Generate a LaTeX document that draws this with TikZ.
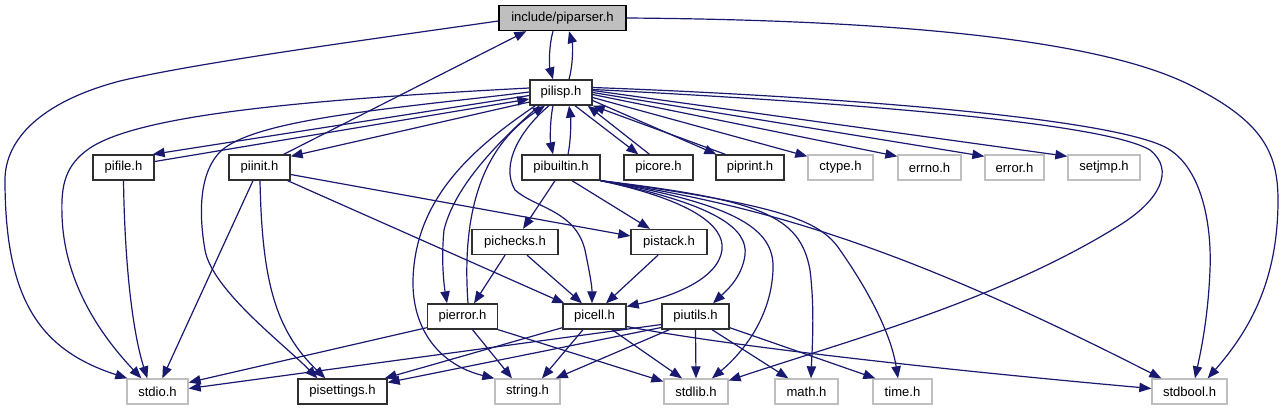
\documentclass[tikz,border=0pt]{standalone}
\usepackage{fontspec}
\setmainfont{Liberation Sans}
\usetikzlibrary{arrows.meta,calc}
\definecolor{eb}{HTML}{191970}
\definecolor{gb}{HTML}{BFBFBF}
\definecolor{nb}{HTML}{303030}
\begin{document}
\begin{tikzpicture}[x=0.75pt,y=-0.75pt,
 hdr/.style={draw=nb, fill=white, line width=1pt, minimum height=18.75pt, inner sep=0pt, font=\fontsize{9.8}{11}\selectfont},
 sys/.style={hdr, draw=gb},
 wd/.style={minimum width=#1*0.75pt},
 e/.style={draw=eb, line width=0.9pt, -{Triangle[length=9pt,width=7pt]}}]
\useasboundingbox (0,0) rectangle (1284,411);
\fill[white] (0,0) rectangle (1284,411);
% nodes
\node[hdr, wd=127, fill=gb, draw=black] (piparser) at (562.5,18) {include/piparser.h};
\node[hdr, wd=62] (pilisp) at (561,92.5) {pilisp.h};
\node[hdr, wd=61] (pifile) at (123.5,167.5) {pifile.h};
\node[hdr, wd=61] (piinit) at (259.5,167.5) {piinit.h};
\node[hdr, wd=78] (pibuiltin) at (561,167.5) {pibuiltin.h};
\node[hdr, wd=69] (picore) at (658.5,167.5) {picore.h};
\node[hdr, wd=68] (piprint) at (750,167.5) {piprint.h};
\node[sys, wd=65] (ctype) at (840.5,167.5) {ctype.h};
\node[sys, wd=63] (errno) at (929.5,167.5) {errno.h};
\node[sys, wd=59] (error) at (1014.5,167.5) {error.h};
\node[sys, wd=72] (setjmp) at (1104,167.5) {setjmp.h};
\node[hdr, wd=86] (pichecks) at (515,242) {pichecks.h};
\node[hdr, wd=76] (pistack) at (669,242) {pistack.h};
\node[hdr, wd=70] (pierror) at (462.5,316.5) {pierror.h};
\node[hdr, wd=63] (picell) at (594.5,316.5) {picell.h};
\node[hdr, wd=67] (piutils) at (695.5,316.5) {piutils.h};
\node[sys, wd=61] (stdio) at (157.5,391.5) {stdio.h};
\node[hdr, wd=89] (pisettings) at (342.5,391.5) {pisettings.h};
\node[sys, wd=65] (string) at (527.5,391.5) {string.h};
\node[sys, wd=64] (stdlib) at (696,391.5) {stdlib.h};
\node[sys, wd=63] (math) at (806.5,391.5) {math.h};
\node[sys, wd=59] (time) at (902.5,391.5) {time.h};
\node[sys, wd=75] (stdbool) at (1189.5,391.5) {stdbool.h};
% piparser edges
\draw[e] ($(piparser.south)+(-9.5,0)$) .. controls (549,45) and (549,65) .. ($(pilisp.north)+(-8,0)$);
\draw[e] ($(pilisp.north)+(8,0)$) .. controls (573,65) and (573,45) .. ($(piparser.south)+(6.5,0)$);
\draw[e] ($(piparser.west)+(0,3)$) .. controls (380,38) and (200,62) .. (120,81) .. controls (40,102) and (5,140) .. (5,180) .. controls (5,300) and (40,350) .. ($(stdio.north west)+(1,0)$);
\draw[e] (piparser.east) .. controls (900,20) and (1100,40) .. (1190,85) .. controls (1260,120) and (1278,150) .. (1278,200) .. controls (1278,280) and (1250,330) .. ($(stdbool.north east)+(-20,0)$);
\draw[e] ($(piinit.north east)+(-7,0)$) -- ($(piparser.south west)+(28,0)$);
% pilisp west side
\draw[e] ($(pilisp.west)+(0,-4.5)$) .. controls (300,100) and (140,115) .. (90,148) .. controls (65,165) and (61,185) .. (62,215) .. controls (64,290) and (110,345) .. ($(stdio.north west)+(15,0)$);
\draw[e] ($(pilisp.west)+(0,-0.5)$) .. controls (400,108) and (260,118) .. (222,150) .. controls (200,170) and (198,210) .. (205,250) .. controls (212,290) and (285,345) .. ($(pisettings.north west)+(20,0)$);
\draw[e] ($(pilisp.west)+(0,3)$) -- ($(pifile.north east)+(-2,0)$);
\draw[e] ($(pifile.east)+(0,-6)$) -- ($(pilisp.west)+(0,6.5)$);
\draw[e] ($(pilisp.west)+(0,9.5)$) -- ($(piinit.north east)+(0,2)$);
% pifile / piinit
\draw[e] (pifile.south) .. controls (125,280) and (135,340) .. ($(stdio.north west)+(21,0)$);
\draw[e] ($(piinit.south)+(-6.5,0)$) -- ($(stdio.north west)+(36,0)$);
\draw[e] ($(piinit.south)+(0.5,0)$) .. controls (262,280) and (275,330) .. ($(pisettings.north west)+(28,0)$);
\draw[e] ($(piinit.south east)+(-3,0)$) -- ($(picell.north west)+(2,0)$);
\draw[e] ($(piinit.east)+(0,7)$) -- ($(pistack.west)+(0,-6)$);
% pilisp south side
\draw[e] ($(pilisp.south west)+(6,0)$) .. controls (470,150) and (415,200) .. (413,280) .. controls (412,330) and (440,365) .. (string.north west);
\draw[e] ($(pilisp.south west)+(10,0)$) .. controls (500,140) and (455,185) .. (444,230) .. controls (441,260) and (444,285) .. ($(pierror.north)+(-15.5,0)$);
\draw[e] ($(pierror.north)+(5.5,0)$) .. controls (462,220) and (478,150) .. ($(pilisp.south)+(-16,0)$);
\draw[e] ($(pilisp.south)+(-12,0)$) .. controls (520,130) and (500,165) .. (515,190) .. controls (535,208) and (575,210) .. (585,250) .. controls (589,270) and (592,285) .. ($(picell.north)+(-2.5,0)$);
\draw[e] ($(pilisp.south)+(-8,0)$) .. controls (550,120) and (550,140) .. ($(pibuiltin.north)+(-8,0)$);
\draw[e] ($(pibuiltin.north)+(7,0)$) .. controls (571,140) and (571,120) .. ($(pilisp.south)+(8,0)$);
\draw[e] ($(pilisp.south)+(14,0)$) -- ($(picore.north west)+(15,0)$);
\draw[e] ($(picore.north)+(-9,0)$) -- ($(pilisp.south east)+(-5,0)$);
\draw[e] ($(pilisp.east)+(0,8)$) -- ($(piprint.north west)+(1,0)$);
\draw[e] ($(piprint.north west)+(10,0)$) -- (pilisp.south east);
% pilisp east side
\draw[e] ($(pilisp.east)+(0,5)$) -- ($(ctype.north west)+(0,2)$);
\draw[e] ($(pilisp.east)+(0,2)$) -- ($(errno.north west)+(0,2)$);
\draw[e] (pilisp.east) -- ($(error.north west)+(0,2)$);
\draw[e] ($(pilisp.east)+(0,-2)$) -- ($(setjmp.north west)+(0,2)$);
\draw[e] ($(pilisp.east)+(0,-3)$) .. controls (800,100) and (1100,120) .. (1150,150) .. controls (1175,170) and (1160,200) .. (1120,225) .. controls (1000,300) and (850,340) .. ($(stdlib.east)+(0,-11)$);
\draw[e] ($(pilisp.east)+(0,-5)$) .. controls (800,95) and (1100,115) .. (1165,147) .. controls (1200,165) and (1212,220) .. (1210,270) .. controls (1208,320) and (1200,355) .. ($(stdbool.north)+(5.5,0)$);
% pibuiltin
\draw[e] ($(pibuiltin.south)+(-6,0)$) -- ($(pichecks.north)+(8,0)$);
\draw[e] ($(pibuiltin.south)+(11,0)$) -- ($(pistack.north)+(-19,0)$);
\draw[e] (pibuiltin.south east) .. controls (690,200) and (725,225) .. (722,250) .. controls (718,280) and (670,297) .. ($(picell.east)+(0,-10)$);
\draw[e] (pibuiltin.south east) .. controls (720,205) and (748,230) .. (745,255) .. controls (742,278) and (725,292) .. ($(piutils.north)+(17.5,0)$);
\draw[e] (pibuiltin.south east) .. controls (740,205) and (775,230) .. (773,270) .. controls (771,320) and (740,355) .. ($(stdlib.north)+(16,0)$);
\draw[e] (pibuiltin.south east) .. controls (760,200) and (800,215) .. (810,270) .. controls (815,310) and (812,350) .. ($(math.north)+(4.5,0)$);
\draw[e] (pibuiltin.south east) .. controls (780,205) and (820,220) .. (840,250) .. controls (875,300) and (892,340) .. ($(time.north)+(-4.5,0)$);
\draw[e] (pibuiltin.south east) .. controls (760,205) and (900,245) .. ($(stdbool.north west)+(10,0)$);
% pichecks / pistack
\draw[e] ($(pichecks.south)+(-10,0)$) -- ($(pierror.north)+(11.5,0)$);
\draw[e] ($(pichecks.south)+(12,0)$) -- ($(picell.north)+(-12.5,0)$);
\draw[e] ($(pistack.south)+(-11,0)$) -- ($(picell.north)+(11.5,0)$);
% pierror
\draw[e] ($(pierror.south west)+(0,-2)$) -- ($(stdio.east)+(0,-9)$);
\draw[e] ($(pierror.south)+(10,0)$) -- ($(string.north)+(-15.5,0)$);
\draw[e] (pierror.south east) -- ($(stdlib.west)+(0,-10)$);
% picell
\draw[e] ($(picell.south west)+(0,-2)$) -- ($(pisettings.north east)+(-3,0)$);
\draw[e] ($(picell.south)+(-11.5,0)$) -- ($(string.north)+(14.5,0)$);
\draw[e] ($(picell.south)+(17.5,0)$) -- ($(stdlib.north)+(-14,0)$);
\draw[e] ($(picell.east)+(0,10)$) .. controls (750,350) and (1000,375) .. ($(stdbool.west)+(0,-3)$);
% piutils
\draw[e] ($(piutils.west)+(0,8)$) -- ($(stdio.east)+(0,-3)$);
\draw[e] ($(piutils.west)+(0,11)$) -- ($(pisettings.east)+(0,-9)$);
\draw[e] ($(piutils.south west)+(8,0)$) -- ($(string.north east)+(-5,0)$);
\draw[e] (piutils.south) -- (stdlib.north);
\draw[e] ($(piutils.south)+(16.5,0)$) -- ($(math.north west)+(14,0)$);
\draw[e] ($(piutils.south east)+(0,-2)$) -- ($(time.north west)+(3,0)$);
\end{tikzpicture}
\end{document}
